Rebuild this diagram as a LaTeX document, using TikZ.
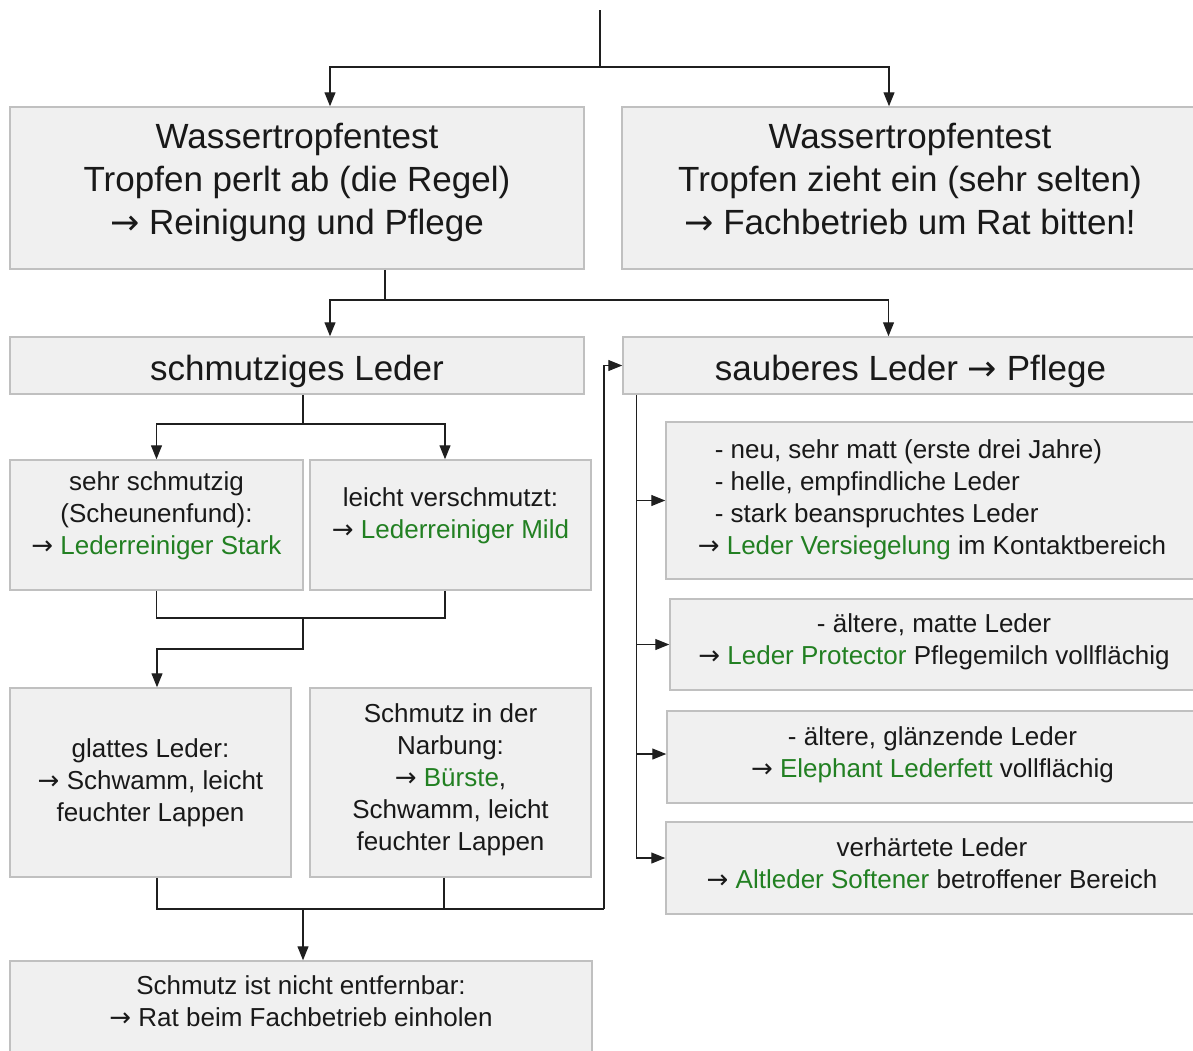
\documentclass[tikz,border=0pt]{standalone}
\usepackage{fontspec}
\setmainfont{Liberation Sans}
\newfontfamily\pfeilfont{DejaVu Sans}
\usetikzlibrary{arrows.meta}
\definecolor{boxfill}{HTML}{F0F0F0}
\definecolor{boxline}{HTML}{C0C0C0}
\definecolor{prodgreen}{RGB}{34,128,34}
\newcommand{\produkt}[1]{\textcolor{prodgreen}{#1}}
\newcommand{\pfeil}{{\pfeilfont →}}

\begin{document}
\begin{tikzpicture}[x=1pt, y=-1pt,
  box/.style={draw=boxline, fill=boxfill, line width=1.5pt, align=center, inner sep=0pt, text=black!90},
  big/.style={font=\fontsize{35}{43}\selectfont},
  small/.style={font=\fontsize{26}{32}\selectfont},
  conn/.style={line width=1.2pt, draw=black!88},
  arr/.style={-{Triangle[length=14pt,width=11pt]}}]
  \clip (0,0) rectangle (1193,1050);

  % water drop test
  \node[box, big, text depth=19pt, minimum width=574pt, minimum height=162pt] (wl) at (297,188)
    {Wassertropfentest\\Tropfen perlt ab (die Regel)\\\pfeil{} Reinigung und Pflege};
  \node[box, big, text depth=19pt, minimum width=576pt, minimum height=162pt] (wr) at (910,188)
    {Wassertropfentest\\Tropfen zieht ein (sehr selten)\\\pfeil{} Fachbetrieb um Rat bitten!};

  % dirty / clean
  \node[box, big, text height=30pt, text depth=0pt, minimum width=574pt, minimum height=57pt] (sl) at (297,365.5) {schmutziges Leder};
  \node[box, big, text height=30pt, text depth=0pt, minimum width=575pt, minimum height=57pt] (sb) at (910.5,365.5) {sauberes Leder \pfeil{} Pflege};

  % cleaning
  \node[box, small, text depth=23.5pt, minimum width=293pt, minimum height=130pt] (ss) at (156.5,525)
    {sehr schmutzig\\(Scheunenfund):\\\pfeil{} \produkt{Lederreiniger Stark}};
  \node[box, small, text depth=23.5pt, minimum width=281pt, minimum height=130pt] (lv) at (450.5,525)
    {leicht verschmutzt:\\\pfeil{} \produkt{Lederreiniger Mild}};
  \node[box, small, minimum width=281pt, minimum height=189pt] (gl) at (150.5,782.5)
    {glattes Leder:\\\pfeil{} Schwamm, leicht\\feuchter Lappen};
  \node[box, small, text depth=11.5pt, minimum width=281pt, minimum height=189pt] (sn) at (450.5,782.5)
    {Schmutz in der\\Narbung:\\\pfeil{} \produkt{Bürste},\\Schwamm, leicht\\feuchter Lappen};
  \node[box, small, text depth=10pt, minimum width=582pt, minimum height=91pt] (sf) at (301,1006.5)
    {Schmutz ist nicht entfernbar:\\\pfeil{} Rat beim Fachbetrieb einholen};

  % care
  \node[box, small, align=left, text depth=6pt, minimum width=532pt, minimum height=157pt] (r1) at (932,500.5)
    {\hspace*{17pt}- neu, sehr matt (erste drei Jahre)\\\hspace*{17pt}- helle, empfindliche Leder\\\hspace*{17pt}- stark beanspruchtes Leder\\\pfeil{} \produkt{Leder Versiegelung} im Kontaktbereich};
  \node[box, small, text depth=11.5pt, minimum width=528pt, minimum height=91pt] (r2) at (934,644.5)
    {- ältere, matte Leder\\\pfeil{} \produkt{Leder Protector} Pflegemilch vollflächig};
  \node[box, small, text depth=9.5pt, minimum width=531pt, minimum height=92pt] (r3) at (932.5,757)
    {- ältere, glänzende Leder\\\pfeil{} \produkt{Elephant Lederfett} vollflächig};
  \node[box, small, text depth=10pt, minimum width=532pt, minimum height=92pt] (r4) at (932,868)
    {verhärtete Leder\\\pfeil{} \produkt{Altleder Softener} betroffener Bereich};

  % branch points
  \coordinate (root) at (600,10);
  \coordinate (fork1) at (600,67);
  \coordinate (fork2) at (385,300);
  \coordinate (fork3) at (303,424);
  \coordinate (join1) at (303,618);
  \coordinate (bend1) at (303,649);
  \coordinate (join2) at (303,909);
  \coordinate (riser) at (604,909);
  \coordinate (spine) at ([xshift=14pt]sb.south west);

  % connectors
  \draw[conn] (root) -- (fork1);
  \draw[conn, arr] (fork1) -| ([xshift=33pt]wl.north);
  \draw[conn, arr] (fork1) -| ([xshift=-21pt]wr.north);
  \draw[conn] (wl.south -| fork2) -- (fork2);
  \draw[conn, arr] (fork2) -| ([xshift=33pt]sl.north);
  \draw[conn, arr] (fork2) -| ([xshift=-22pt]sb.north);
  \draw[conn] (sl.south -| fork3) -- (fork3);
  \draw[conn, arr] (fork3) -| (ss.north);
  \draw[conn, arr] (fork3) -| ([xshift=-5.5pt]lv.north);
  \draw[conn] (ss.south) |- (join1);
  \draw[conn] ([xshift=-5.5pt]lv.south) |- (join1);
  \draw[conn, arr] (join1) -- (bend1) -| ([xshift=6.5pt]gl.north);
  \draw[conn] ([xshift=6.5pt]gl.south) |- (riser);
  \draw[conn] ([xshift=-6.5pt]sn.south) -- ([xshift=-6.5pt]sn.south |- join2);
  \draw[conn, arr] (riser) |- (sb.west);
  \draw[conn, arr] (join2) -- (join2 |- sf.north);
  \draw[conn, arr] (spine) |- ([yshift=10pt]r4.west);
  \draw[conn, arr] (spine |- r1.west) -- (r1.west);
  \draw[conn, arr] (spine |- r2.west) -- (r2.west);
  \draw[conn, arr] ([yshift=3pt]r3.west -| spine) -- ([yshift=3pt]r3.west);
\end{tikzpicture}
\end{document}
